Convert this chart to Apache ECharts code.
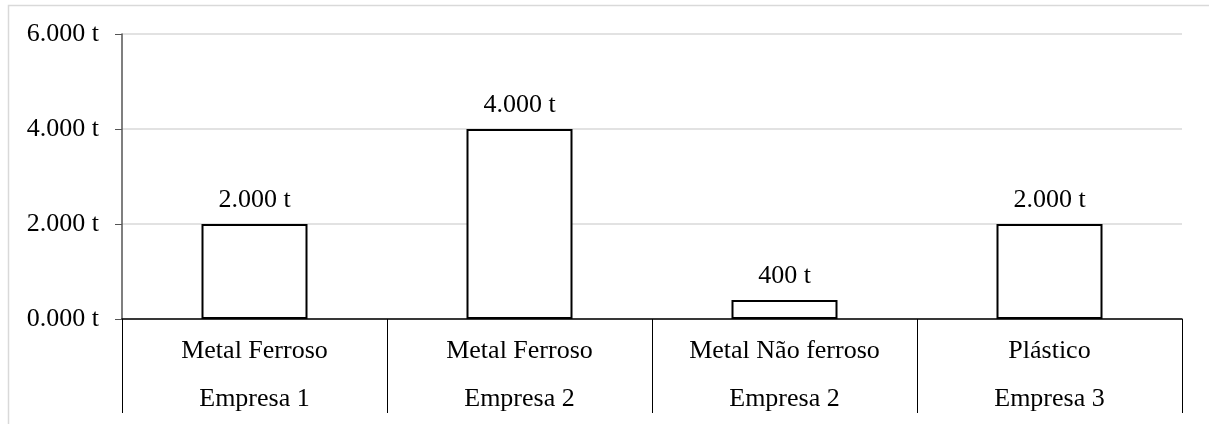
<!DOCTYPE html>
<html>
<head>
<meta charset="utf-8">
<script src="https://cdn.jsdelivr.net/npm/echarts@6/dist/echarts.min.js"></script>
<style>
  html, body { margin: 0; padding: 0; background: #fff; }
  #chart { width: 1209px; height: 424px; }
</style>
</head>
<body>
<div id="chart"></div>
<script>
// Material type (first row) and company (second row) for each bar
const materials = ['Metal Ferroso', 'Metal Ferroso', 'Metal Não ferroso', 'Plástico'];
const companies = ['Empresa 1', 'Empresa 2', 'Empresa 2', 'Empresa 3'];
// Quantities in tonnes
const tonnes = [2000, 4000, 400, 2000];
// Y axis ticks
const yTicks = [0, 2000, 4000, 6000];

const FONT = '"Liberation Serif", "Times New Roman", serif';
const FONT_SIZE = 26;

// Portuguese thousands separator, e.g. 2000 -> "2.000"
function fmtThousands(v) {
  return String(Math.round(v)).replace(/\B(?=(\d{3})+(?!\d))/g, '.');
}

const categories = materials.map((m, i) => m + '\n' + companies[i]);

const chart = echarts.init(document.getElementById('chart'));
chart.setOption({
  animation: false,
  backgroundColor: '#fff',
  graphic: [{
    type: 'rect',
    shape: { x: 8.5, y: 5.5, width: 1400, height: 600 },
    style: { fill: 'none', stroke: '#d9d9d9', lineWidth: 1.5 },
    silent: true
  }],
  grid: { left: 122, right: 27, top: 34, bottom: 105 },
  xAxis: {
    type: 'category',
    data: categories,
    axisLine: { lineStyle: { color: '#000', width: 1.5 } },
    axisTick: { show: true, length: 94, lineStyle: { color: '#000', width: 1 } },
    axisLabel: {
      color: '#000', fontFamily: FONT, fontSize: FONT_SIZE, lineHeight: 48,
      margin: 8, interval: 0
    }
  },
  yAxis: {
    type: 'value',
    min: yTicks[0],
    max: yTicks[yTicks.length - 1],
    interval: yTicks[1] - yTicks[0],
    axisLine: { show: true, lineStyle: { color: '#555', width: 1.5 } },
    axisTick: { show: true, length: 7, lineStyle: { color: '#555' } },
    splitLine: { lineStyle: { color: '#d9d9d9', width: 1.5 } },
    axisLabel: {
      color: '#000', fontFamily: FONT, fontSize: FONT_SIZE, margin: 23,
      formatter: v => (v / 1000).toFixed(3) + ' t'
    }
  },
  series: [{
    type: 'bar',
    data: tonnes,
    barWidth: 106,
    itemStyle: { color: '#fff', borderColor: '#000', borderWidth: 2 },
    label: {
      show: true, position: 'top', distance: 11,
      color: '#000', fontFamily: FONT, fontSize: FONT_SIZE,
      formatter: p => fmtThousands(p.value) + ' t'
    }
  }]
});
</script>
</body>
</html>
